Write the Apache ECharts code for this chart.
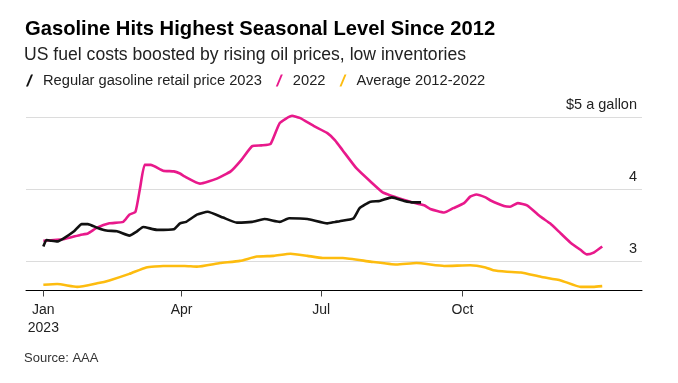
<!DOCTYPE html>
<html>
<head>
<meta charset="utf-8">
<script src="https://cdn.jsdelivr.net/npm/echarts@6/dist/echarts.min.js"></script>
<style>
html,body{margin:0;padding:0;background:#fff;}
#chart{width:678px;height:383px;}
</style>
</head>
<body>
<div id="chart"></div>
<script>
// ---- Data (day of year, 0 = Jan 1) ----
const titleText = 'Gasoline Hits Highest Seasonal Level Since 2012';
const subtitleText = 'US fuel costs boosted by rising oil prices, low inventories';
const sourceText = 'Source: AAA';
const seriesNames = ['Regular gasoline retail price 2023', '2022', 'Average 2012-2022'];

const days2023 = [0,2,5,9,13,20,25,29,35,41,48,56,61,65,74,85,89,93,100,107,117,126,136,144,154,160,172,185,190,193,202,206,213,219,227,235,241,246];
const price2023 = [3.21,3.30,3.29,3.28,3.32,3.42,3.52,3.52,3.47,3.43,3.42,3.36,3.42,3.48,3.44,3.45,3.53,3.55,3.65,3.69,3.61,3.54,3.55,3.59,3.55,3.60,3.59,3.53,3.55,3.56,3.60,3.74,3.83,3.84,3.89,3.84,3.82,3.82];

const days2022 = [0,13,24,29,35,43,52,56,60,63,66,70,78,85,89,92,102,113,122,129,136,142,148,154,162,167,176,185,190,195,204,213,221,230,239,248,252,261,267,274,278,282,288,291,300,304,309,315,324,330,337,343,350,354,358,364];
const price2022 = [3.29,3.31,3.37,3.39,3.47,3.53,3.55,3.65,3.69,4.02,4.34,4.34,4.26,4.25,4.22,4.18,4.08,4.15,4.25,4.41,4.60,4.61,4.63,4.92,5.02,4.99,4.88,4.78,4.68,4.54,4.29,4.11,3.96,3.89,3.83,3.78,3.73,3.68,3.74,3.81,3.90,3.93,3.89,3.85,3.77,3.76,3.81,3.78,3.62,3.53,3.39,3.27,3.16,3.10,3.12,3.21];

const daysAvg = [0,9,22,35,43,56,67,78,92,100,115,128,139,150,161,172,182,195,213,230,243,261,278,288,293,302,311,324,337,350,358,364];
const priceAvg = [2.68,2.69,2.65,2.70,2.74,2.83,2.92,2.94,2.94,2.93,2.98,3.01,3.07,3.08,3.11,3.08,3.05,3.05,3.00,2.96,2.98,2.94,2.95,2.92,2.88,2.86,2.85,2.79,2.74,2.65,2.65,2.66];

const xTickDays = [0, 90, 181, 273];
const xTickLabels = ['Jan\n2023', 'Apr', 'Jul', 'Oct'];
const yTickValues = [3, 4, 5];
const yTickLabels = ['3', '4', '$5 a gallon'];

// ---- Build ----
const zip = (xs, ys) => xs.map((x, i) => [x, ys[i]]);
const colors = ['#111111', '#e8198b', '#fdbc0f'];
const slash = 'path://M0,12 L5,0 L7,0 L2,12 Z';

const chart = echarts.init(document.getElementById('chart'), null, {renderer: 'canvas'});
const font = '"Liberation Sans", Arial, Helvetica, sans-serif';

chart.setOption({
  animation: false,
  backgroundColor: '#ffffff',
  textStyle: {fontFamily: font},
  title: [
    {text: titleText, left: 25, top: 19, padding: 0,
     textStyle: {fontSize: 20.2, fontWeight: 'bold', color: '#000', fontFamily: font}},
    {text: subtitleText, left: 24, top: 46, padding: 0,
     textStyle: {fontSize: 17.6, fontWeight: 'normal', color: '#222', fontFamily: font}},
    {text: sourceText, left: 24, top: 352, padding: 0,
     textStyle: {fontSize: 13, fontWeight: 'normal', color: '#333', fontFamily: font}}
  ],
  legend: {
    data: seriesNames,
    left: 26, top: 73, padding: 0,
    icon: slash,
    itemWidth: 7, itemHeight: 12, itemGap: 14,
    textStyle: {fontSize: 14.7, color: '#222', fontFamily: font, padding: [0, 0, 0, 5]}
  },
  grid: {left: 26, right: 36, top: 110, bottom: 92.5, containLabel: false},
  xAxis: {
    type: 'value', min: -11.3, max: 389.9,
    splitLine: {show: false},
    axisLine: {show: true, lineStyle: {color: '#000', width: 1}},
    axisTick: {show: true, customValues: xTickDays, length: 6, lineStyle: {color: '#444'}},
    axisLabel: {
      customValues: xTickDays, margin: 11, fontSize: 14, color: '#222', lineHeight: 18,
      fontFamily: font,
      formatter: v => xTickLabels[xTickDays.indexOf(v)] || ''
    }
  },
  yAxis: {
    type: 'value', min: 2.6, max: 5.1,
    show: true,
    axisLine: {show: false}, axisTick: {show: false}, axisLabel: {show: false},
    splitLine: {show: false}
  },
  series: [
    {name: seriesNames[0], type: 'line', data: zip(days2023, price2023), showSymbol: false, z: 5,
     smooth: 0.15,
     color: colors[0], lineStyle: {color: colors[0], width: 2.6}, itemStyle: {color: colors[0]}},
    {name: seriesNames[1], type: 'line', data: zip(days2022, price2022), showSymbol: false, z: 4,
     smooth: 0.15,
     color: colors[1], lineStyle: {color: colors[1], width: 2.6}, itemStyle: {color: colors[1]}},
    {name: seriesNames[2], type: 'line', data: zip(daysAvg, priceAvg), showSymbol: false, z: 3,
     smooth: 0.15,
     color: colors[2], lineStyle: {color: colors[2], width: 2.6}, itemStyle: {color: colors[2]},
     markLine: {
       silent: true, symbol: ['none', 'none'], z: 1,
       lineStyle: {color: '#dcdcdc', width: 1, type: 'solid'},
       label: {show: true, position: 'insideEndTop', distance: 5, fontSize: 14.5, color: '#222',
               fontFamily: font,
               formatter: p => yTickLabels[yTickValues.indexOf(p.value)]},
       data: yTickValues.map(v => ({yAxis: v}))
     }}
  ]
});
</script>
</body>
</html>
